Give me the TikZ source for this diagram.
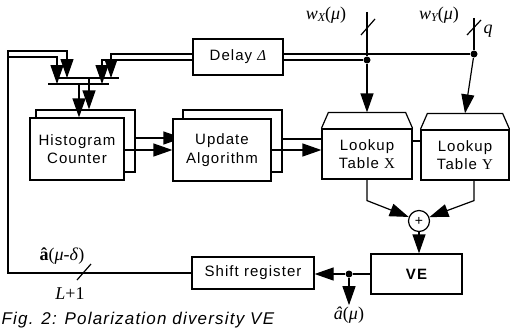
\documentclass[tikz,border=0pt]{standalone}
\usepackage{fontspec}
\setmainfont{Liberation Sans}[LetterSpace=7]
\newfontfamily\tms{Liberation Serif}
\usetikzlibrary{arrows.meta, positioning}

\begin{document}
\begin{tikzpicture}[x=1pt, y=-1pt, line width=1.2pt,
    >={Triangle[length=19pt, width=13pt]},
    box/.style={draw, fill=white, inner sep=0pt, align=center,
        font=\fontsize{15}{18.5}\selectfont},
    dot/.style={circle, fill, inner sep=0pt, minimum size=7pt},
    lbl/.style={inner sep=1pt, font=\tms\fontsize{18}{20}\selectfont}]
    \useasboundingbox (0,0) rectangle (510,329);

    % lookup tables
    \node[box, minimum width=90pt, minimum height=50pt] (lutx) at (367,154) {Lookup\\Table {\tms X}};
    \node[box, minimum width=88pt, minimum height=50pt] (luty) at (465,155) {Lookup\\Table {\tms Y}};
    \draw (lutx.north west) -- ++(7,-16) -- ([xshift=-7pt, yshift=16pt]lutx.north east) -- (lutx.north east);
    \draw (luty.north west) -- ++(7,-16) -- ([xshift=-7pt, yshift=16pt]luty.north east) -- (luty.north east);
    \draw ([yshift=13pt]lutx.east) coordinate (lk) -- (lk -| luty.west);

    % stacked boxes, back layer
    \node[box, minimum width=99pt, minimum height=62pt] (histb) at (85.5,141) {};
    \node[box, minimum width=99pt, minimum height=62pt] (updb) at (232.5,141) {};
    \draw[->] ([yshift=3pt]histb.east) -- ([yshift=3pt]updb.west);
    \draw ([yshift=2pt]updb.east) coordinate (ua) -- (ua -| lutx.west);

    % stacked boxes, front layer
    \node[box, minimum width=94pt, minimum height=62pt] (hist) at (77,149) {Histogram\\Counter};
    \node[box, minimum width=98pt, minimum height=62pt] (upd) at (222,150) {Update\\Algorithm};
    \draw[->] ([yshift=-1pt]hist.east) coordinate (ha) -- (ha -| upd.west);
    \draw[->] (upd.east) -- (upd.east -| lutx.west);

    % delay and inputs
    \node[box, minimum width=90pt, minimum height=36pt] (delay) at (238,57) {Delay {\tms\itshape Δ}};
    \node[dot] (dx) at (367,60) {};
    \node[dot] (dy) at (474,54) {};
    \coordinate (wx) at (367,12);
    \coordinate (wy) at (474,18);
    \draw ([yshift=3pt]delay.east) -- (dy);
    \draw ([yshift=-3pt]delay.east) -- (dx);
    \draw (wx) -- (dx);
    \draw (wy) -- (dy);
    \draw[->] (dx) -- ([yshift=16pt]lutx.north);
    \draw[->] (dy) -- ([yshift=16pt]luty.north);
    \draw (361,35) -- (375,19);
    \draw (467,35) -- (481,20);
    \node[lbl] (wxl) at (326,15) {\itshape w\raisebox{-2pt}{\fontsize{12}{12}\selectfont X}\upshape(\textit{μ})};
    \node[lbl] (wyl) at (439,15) {\itshape w\raisebox{-2pt}{\fontsize{12}{12}\selectfont Y}\upshape(\textit{μ})};
    \node[lbl] (ql) at (488,31) {\itshape q};

    % bus into histogram
    \coordinate (bush) at (55,78);
    \coordinate (bushe) at (119,78);
    \coordinate (busl) at (48,84);
    \coordinate (busle) at (109,84);
    \draw (bush) -- (bushe);
    \draw (busl) -- (busle);
    \draw[->] ([yshift=3pt]delay.west) -| (111,78);
    \draw[->] ([yshift=-3pt]delay.west) -| (102,84);
    \draw[->] ([xshift=3.5pt]histb.north |- bush) -- ([xshift=3.5pt]histb.north);
    \draw[->] ([xshift=2pt]hist.north |- busl) -- ([xshift=2pt]hist.north);

    % combiner and decision
    \node[draw, circle, fill=white, minimum size=21pt, inner sep=0pt, font=\fontsize{14}{14}\selectfont] (sum) at (419,221) {+};
    \node[box, minimum width=91pt, minimum height=40pt, font=\bfseries\fontsize{15}{18}\selectfont] (ve) at (416.5,274) {VE};
    \node[box, minimum width=122pt, minimum height=32pt] (shift) at (253,273) {Shift register};
    \node[dot] (tap) at (349,274) {};
    \draw[->] (lutx.south) -- ++(0,21) -- (sum);
    \draw[->] ([xshift=9pt]luty.south) -- ++(0,20) -- (sum);
    \draw[->] (sum) -- (sum |- ve.north);
    \draw (ve.west) -- (tap);
    \draw[->] (tap) -- (tap -| shift.east);
    \node[lbl] (ahat) at (349,315) {\textit{â}(\textit{μ})};
    \draw[->] (tap) -- (ahat.north);

    % feedback
    \draw[->] (shift.west) -| (8,51) -| (67,78);
    \draw[->] (8,57) -| (57,84);
    \draw (77,280) -- (91,264);
    \node[lbl] (fbl) at (62,256) {{\bfseries â}(\textit{μ}-\textit{δ})};
    \node[lbl] (fbn) at (70,294) {\textit{L}+1};

    \node[anchor=base west, inner sep=0pt, font=\itshape\fontsize{17}{19}\selectfont] (cap) at (1,324) {Fig. 2: Polarization diversity VE};
\end{tikzpicture}
\end{document}
